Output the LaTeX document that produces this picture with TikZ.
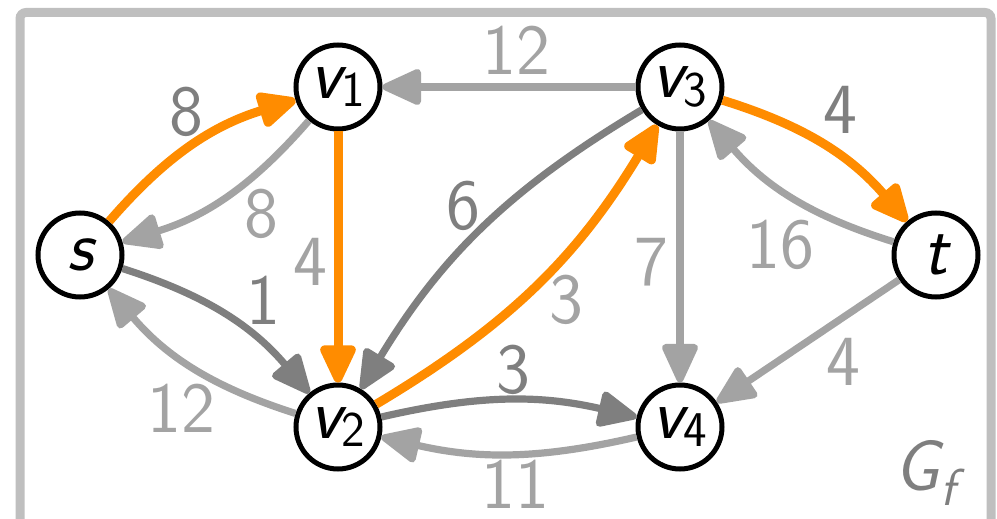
\documentclass[tikz,border=0pt]{standalone}
\usetikzlibrary{arrows.meta}
\definecolor{orng}{HTML}{FF8C00}
\definecolor{dgray}{HTML}{7F7F7F}
\definecolor{lgray}{HTML}{A3A3A3}
\definecolor{fgray}{HTML}{BFBFBF}
\newcommand\vsub[1]{\raisebox{-0.12em}{\upshape\fontsize{25}{25}\selectfont #1}}
\begin{document}
\begin{tikzpicture}[x=0.5pt,y=-0.5pt,
  vtx/.style={circle, draw=black, line width=2.5pt, fill=white, minimum size=42pt, inner sep=0pt,
    font=\fontsize{36}{40}\selectfont\sffamily\itshape},
  arr/.style={-{Triangle[length=22pt,width=19pt,round]}, line width=3.6pt},
  oarr/.style={arr, orng, line width=4.5pt},
  garr/.style={arr, lgray},
  darr/.style={arr, dgray},
  lbl/.style={font=\fontsize{36}{40}\selectfont\sffamily, inner sep=0pt},
  llbl/.style={lbl, text=lgray},
  dlbl/.style={lbl, text=dgray}]
\useasboundingbox (0,0) rectangle (997,519);
\clip (0,0) rectangle (997,519);
\draw[fgray, line width=4.5pt, rounded corners=3pt] (20,600) -- (20,12.5) -- (991,12.5) -- (991,600);

\node[vtx] (s) at (80,255) {s};
\node[vtx] (v1) at (338,87) {v\vsub{1}};
\node[vtx] (v3) at (680,87) {v\vsub{3}};
\node[vtx] (t) at (936,255) {t};
\node[vtx] (v2) at (338,427) {v\vsub{2}};
\node[vtx] (v4) at (680,427) {v\vsub{4}};

\draw[garr] (v1) to[bend left=16] (s);
\draw[garr] (v3) -- (v1);
\draw[darr] (v3) to[bend right=14] (v2);
\draw[darr] (s) to[bend left=16] (v2);
\draw[garr] (v2) to[bend left=16] (s);
\draw[darr] (v2) to[bend left=13] (v4);
\draw[garr] (v4) to[bend left=13] (v2);
\draw[garr] (v3) -- (v4);
\draw[garr] (t) to[bend left=16] (v3);
\draw[garr] (t) -- (v4);
\draw[oarr] (s) to[bend left=16] (v1);
\draw[oarr] (v1) -- (v2);
\draw[oarr] (v2) to[bend right=14] (v3);
\draw[oarr] (v3) to[bend left=16] (t);

\node[dlbl] (l1) at (186,112) {8};
\node[llbl] (l2) at (261,214) {8};
\node[llbl] (l3) at (310,262) {4};
\node[llbl] (l4) at (516,50) {12};
\node[dlbl] (l5) at (463,206) {6};
\node[llbl] (l6) at (566,300) {3};
\node[dlbl] (l7) at (263,300) {1};
\node[llbl] (l8) at (181,408) {12};
\node[dlbl] (l9) at (513,370) {3};
\node[llbl] (l10) at (515,484) {11};
\node[llbl] (l11) at (651,262) {7};
\node[dlbl] (l12) at (840,110) {4};
\node[llbl] (l13) at (780,245) {16};
\node[llbl] (l14) at (843,362) {4};
\node[dlbl, font=\fontsize{36}{40}\selectfont\sffamily\itshape] (gf) at (925,473) {G\raisebox{-0.2em}{\fontsize{26}{26}\selectfont f}};
\end{tikzpicture}
\end{document}
